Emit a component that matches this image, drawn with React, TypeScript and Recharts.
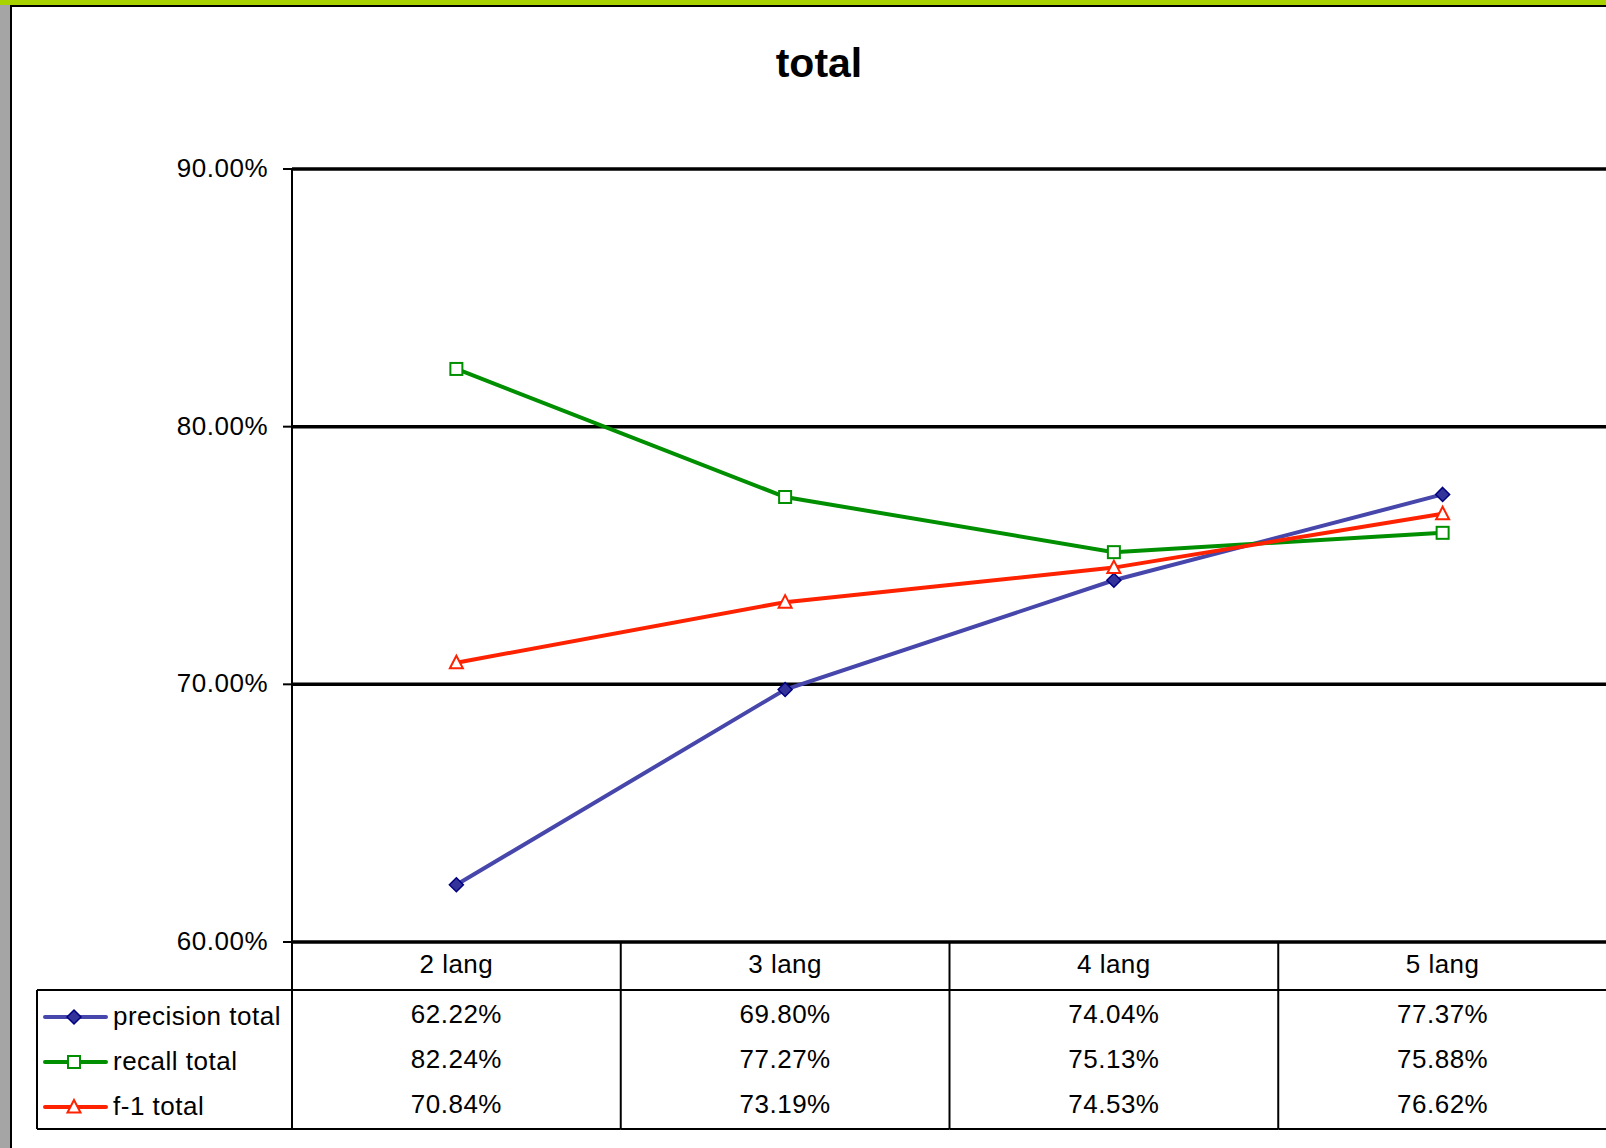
import React from "react";
import { LineChart, Line, XAxis, YAxis, CartesianGrid } from "recharts";

const CATEGORIES = ["2 lang", "3 lang", "4 lang", "5 lang"];
const PRECISION = [62.22, 69.8, 74.04, 77.37];
const RECALL = [82.24, 77.27, 75.13, 75.88];
const F1 = [70.84, 73.19, 74.53, 76.62];
const Y_TICKS = [60, 70, 80, 90];
const SERIES = [
  { key: "precision", name: "precision total", values: PRECISION, color: "#4646ab", shape: "diamond" },
  { key: "recall", name: "recall total", values: RECALL, color: "#008f00", shape: "square" },
  { key: "f1", name: "f-1 total", values: F1, color: "#ff2200", shape: "triangle" },
];

const FONT = '"Liberation Sans", Arial, sans-serif';
const LS = 0.5;
const W = 1606;
const H = 1148;
const CHART_W = 1608;
const PLOT_LEFT = 292;
const PLOT_TOP = 169;
const PLOT_BOTTOM = 942;
const HEADER_BOTTOM = 990;
const TABLE_BOTTOM = 1129;
const ROW_BASE = [1023, 1068, 1113];
const BAND = (CHART_W - PLOT_LEFT - 1) / CATEGORIES.length;

const data = CATEGORIES.map((cat, i) => ({
  cat,
  precision: PRECISION[i],
  recall: RECALL[i],
  f1: F1[i],
}));

const fmt = (v: number) => v.toFixed(2) + "%";

function Marker({ shape, color, cx, cy }: any) {
  if (cx == null || cy == null) return null;
  if (shape === "diamond") {
    const r = 7;
    return (
      <polygon
        points={`${cx},${cy - r} ${cx + r},${cy} ${cx},${cy + r} ${cx - r},${cy}`}
        fill="#333399"
        stroke="#000080"
        strokeWidth={1.5}
      />
    );
  }
  if (shape === "square") {
    return <rect x={cx - 6} y={cy - 6} width={12} height={12} fill="#fff" stroke={color} strokeWidth={2} />;
  }
  return (
    <polygon
      points={`${cx},${cy - 7} ${cx + 6.5},${cy + 5.5} ${cx - 6.5},${cy + 5.5}`}
      fill="#fff"
      stroke={color}
      strokeWidth={2}
    />
  );
}

const YTick = ({ x, y, payload }: any) => (
  <text x={x} y={y + 8} textAnchor="end" fontSize={26} letterSpacing={LS} fontFamily={FONT} fill="#000">
    {fmt(payload.value)}
  </text>
);

// each x tick draws its whole column of the data table
const XTick = ({ x, index, payload }: any) => {
  const left = x - BAND / 2;
  const right = x + BAND / 2;
  return (
    <g>
      <line x1={left} y1={PLOT_BOTTOM} x2={left} y2={TABLE_BOTTOM} stroke="#000" strokeWidth={2} />
      <line x1={left} y1={HEADER_BOTTOM} x2={right} y2={HEADER_BOTTOM} stroke="#000" strokeWidth={2} />
      <line x1={left} y1={TABLE_BOTTOM} x2={right} y2={TABLE_BOTTOM} stroke="#000" strokeWidth={2} />
      <text x={x} y={973} textAnchor="middle" fontSize={26} letterSpacing={LS} fontFamily={FONT} fill="#000">
        {payload.value}
      </text>
      {SERIES.map((s, r) => (
        <text key={s.key} x={x} y={ROW_BASE[r]} textAnchor="middle" fontSize={26} letterSpacing={LS} fontFamily={FONT} fill="#000">
          {fmt(s.values[index])}
        </text>
      ))}
    </g>
  );
};

function Frame() {
  return (
    <svg width={W} height={H} style={{ position: "absolute", left: 0, top: 0 }}>
      <rect x={0} y={0} width={W} height={5} fill="#a9d300" />
      <rect x={0} y={5} width={10} height={H} fill="#a5a5a5" />
      <rect x={10} y={5} width={W} height={2} fill="#000" />
      <rect x={10} y={5} width={2} height={H} fill="#000" />
      <text x={819} y={77} textAnchor="middle" fontSize={41} fontWeight="bold" fontFamily={FONT} fill="#000">
        total
      </text>
      {/* legend column of the data table */}
      <line x1={37} y1={HEADER_BOTTOM} x2={PLOT_LEFT} y2={HEADER_BOTTOM} stroke="#000" strokeWidth={2} />
      <line x1={37} y1={TABLE_BOTTOM} x2={PLOT_LEFT} y2={TABLE_BOTTOM} stroke="#000" strokeWidth={2} />
      <line x1={37} y1={HEADER_BOTTOM} x2={37} y2={TABLE_BOTTOM} stroke="#000" strokeWidth={2} />
      {SERIES.map((s, r) => {
        const cy = ROW_BASE[r] - 6;
        return (
          <g key={s.key}>
            <line x1={45} y1={cy} x2={106} y2={cy} stroke={s.color} strokeWidth={4} strokeLinecap="round" />
            <Marker shape={s.shape} color={s.color} cx={74} cy={cy} />
            <text x={113} y={ROW_BASE[r] + 2} fontSize={26} letterSpacing={LS} fontFamily={FONT} fill="#000">
              {s.name}
            </text>
          </g>
        );
      })}
    </svg>
  );
}

export default function App() {
  return (
    <div style={{ position: "absolute", left: 0, top: 0, width: W, height: H, overflow: "hidden", background: "#fff" }}>
      <Frame />
      <div style={{ position: "absolute", left: 0, top: 0, zIndex: 1 }}>
        <LineChart width={CHART_W} height={H} data={data} margin={{ top: PLOT_TOP, right: 1, bottom: 16, left: 0 }}>
          <CartesianGrid vertical={false} stroke="#000" strokeWidth={3.5} />
          <XAxis
            dataKey="cat"
            scale="band"
            height={190}
            interval={0}
            axisLine={{ stroke: "#000", strokeWidth: 2 }}
            tickLine={false}
            tick={(p: any) => <XTick {...p} />}
          />
          <YAxis
            width={PLOT_LEFT}
            domain={[60, 90]}
            ticks={Y_TICKS}
            interval={0}
            axisLine={{ stroke: "#000", strokeWidth: 2 }}
            tickLine={{ stroke: "#000", strokeWidth: 2 }}
            tickSize={9}
            tickMargin={15}
            tick={(p: any) => <YTick {...p} />}
          />
          {SERIES.map((s) => (
            <Line
              key={s.key}
              dataKey={s.key}
              name={s.name}
              type="linear"
              stroke={s.color}
              strokeWidth={4}
              isAnimationActive={false}
              activeDot={false}
              dot={(p: any) => <Marker key={`${s.key}-${p.index}`} shape={s.shape} color={s.color} cx={p.cx} cy={p.cy} />}
            />
          ))}
        </LineChart>
      </div>
    </div>
  );
}
